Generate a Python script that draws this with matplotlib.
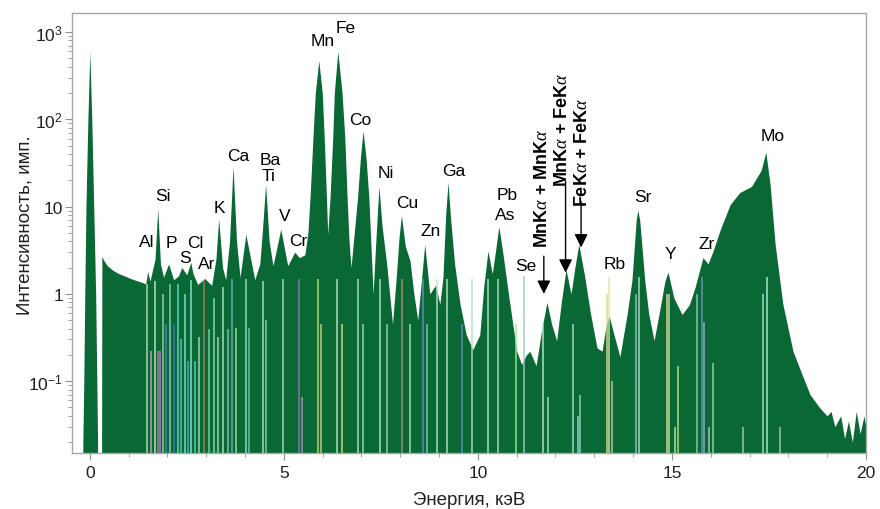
import matplotlib
matplotlib.use("Agg")
import matplotlib.pyplot as plt
from matplotlib.ticker import FixedLocator, MultipleLocator, LogLocator, NullFormatter

plt.rcParams['font.family'] = ['Liberation Sans', 'DejaVu Sans']
plt.rcParams['mathtext.fontset'] = 'custom'
plt.rcParams['mathtext.rm'] = 'Liberation Sans'
plt.rcParams['mathtext.it'] = 'Liberation Serif:italic'
plt.rcParams['mathtext.bf'] = 'Liberation Sans:bold'

GREEN = "#0a6834"
GAP = 1e-3   # below the axis floor -> white gap

# spectrum outline (energy keV, intensity)
energy = [
    -0.19, -0.18, -0.155, -0.13, -0.10, -0.05, 0.0, 0.05, 0.10, 0.15, 0.18, 0.20,
    0.21, 0.30, 0.31, 0.36, 0.45, 0.6, 0.75, 0.9, 1.05, 1.2, 1.35, 1.44,
    1.49, 1.55, 1.68, 1.75, 1.82, 1.9, 2.03, 2.16, 2.28, 2.37, 2.5, 2.6, 2.66,
    2.78, 2.96, 3.14, 3.25, 3.32, 3.42, 3.5, 3.6, 3.69, 3.78, 3.87, 4.02, 4.25,
    4.38, 4.45, 4.53, 4.62, 4.72, 4.92, 5.1, 5.28, 5.4, 5.54,
    5.62, 5.68, 5.75, 5.81, 5.9, 5.99, 6.04, 6.1, 6.13,
    6.19, 6.26, 6.3, 6.39, 6.5, 6.57, 6.63, 6.68, 6.73,
    6.9, 6.97, 7.04, 7.12, 7.19, 7.3,
    7.37, 7.45, 7.53, 7.65, 7.8,
    7.89, 7.97, 8.03, 8.13, 8.25, 8.35, 8.45,
    8.55, 8.63, 8.76, 8.91, 9.02,
    9.1, 9.17, 9.23, 9.3, 9.4, 9.54, 9.7, 9.87,
    10.05, 10.15, 10.26, 10.37, 10.45, 10.54, 10.64, 10.8, 11.0, 11.13, 11.25,
    11.34, 11.5, 11.65, 11.78, 11.9, 12.03, 12.15, 12.27, 12.4, 12.5, 12.6,
    12.75, 12.9, 13.07, 13.2, 13.3, 13.38, 13.5, 13.66,
    13.85, 13.97, 14.03, 14.08, 14.12, 14.17, 14.23, 14.3, 14.4, 14.54,
    14.7, 14.82, 14.9, 15.05, 15.26, 15.45, 15.6, 15.8, 15.93,
    16.05, 16.25, 16.5, 16.75, 17.05, 17.3, 17.42, 17.53, 17.66, 17.86,
    18.12, 18.35, 18.56, 18.8, 19.0, 19.1, 19.2, 19.35, 19.45, 19.55,
    19.65, 19.75, 19.85, 19.95, 20.0,
]
intensity = [
    GAP, 0.02, 0.1, 1.0, 10, 100, 600, 100, 10, 1.0, 0.1, 0.02,
    GAP, GAP, 2.7, 2.4, 2.1, 1.85, 1.7, 1.6, 1.5, 1.42, 1.35, 1.3,
    1.8, 1.4, 2.5, 9.5, 2.2, 1.55, 2.2, 1.45, 1.6, 2.0, 1.65, 2.3, 1.7,
    1.28, 1.5, 1.25, 2.5, 7.2, 2.0, 1.45, 4.0, 29, 4.0, 1.55, 4.8, 1.45,
    2.2, 5.5, 18, 4.0, 2.1, 5.5, 2.1, 3.0, 2.6, 2.8,
    5, 14, 62, 200, 470, 200, 62, 12, 4.8,
    12.7, 62, 200, 600, 200, 62, 12.7, 4.0, 2.0,
    12.7, 35, 74, 35, 12.7, 1.0,
    4, 17, 6, 2.2, 0.45,
    1.43, 4.5, 7.9, 3.5, 2.4, 1.0, 0.5,
    1.5, 3.7, 1.0, 1.25, 0.76,
    1.55, 8, 19, 7, 2.2, 0.76, 0.34, 0.23,
    0.34, 1.2, 3.1, 1.7, 3.0, 5.9, 3.0, 0.91, 0.22, 0.155, 0.2,
    0.22, 0.15, 0.4, 0.8, 0.45, 0.29, 0.8, 1.9, 1.0, 2.0, 3.7,
    1.6, 0.6, 0.24, 0.22, 0.42, 0.56, 0.35, 0.19,
    0.6, 1.43, 3.4, 7, 9.1, 7, 3.4, 1.43, 0.6, 0.29,
    0.7, 1.4, 1.77, 0.9, 0.58, 0.75, 1.2, 2.6, 2.2,
    3.0, 5.5, 10.5, 14.5, 17, 26, 42, 18, 3.7, 0.76,
    0.22, 0.12, 0.07, 0.05, 0.04, 0.045, 0.03, 0.04, 0.022, 0.035,
    0.02, 0.045, 0.025, 0.04, 0.03,
]

# element line markers: energy, top intensity, colour
line_energy = [
    1.47, 1.57, 1.68, 1.75, 1.80, 1.88, 1.96, 2.06, 2.16, 2.27, 2.35, 2.45,
    2.53, 2.60, 2.70, 2.81, 2.94, 3.07, 3.20, 3.30, 3.43, 3.56,
    3.66, 3.76, 4.02, 4.10, 4.46, 4.54, 4.97, 5.39, 5.46, 5.88, 5.95, 6.37,
    6.50, 6.90, 7.04, 7.47, 7.65, 8.04, 8.25, 8.58, 8.69, 8.94, 9.20, 9.59,
    9.85, 10.26, 10.52, 10.98, 11.20, 11.68, 11.80, 12.45, 12.57, 12.63,
    13.32, 13.38, 13.45, 14.07, 14.15, 14.87, 14.92, 15.08, 15.15, 15.64,
    15.77, 15.82, 15.95, 16.06, 16.83, 17.35, 17.45, 17.78,
]
line_top = [
    1.28, 0.22, 1.4, 0.22, 0.22, 1.0, 0.45, 1.28, 0.45, 1.28, 0.3, 1.0,
    0.17, 1.45, 0.17, 0.32, 1.45, 0.4, 0.9, 0.32, 1.2, 0.4,
    1.47, 0.41, 1.47, 0.41, 1.4, 0.5, 1.47, 1.47, 0.065, 1.47, 0.45, 1.47,
    0.45, 1.47, 0.45, 1.47, 0.45, 1.47, 0.45, 1.47, 0.45, 1.47, 1.47, 0.45,
    1.47, 1.47, 1.47, 0.45, 1.6, 0.45, 0.065, 0.45, 0.04, 0.07,
    1.0, 1.55, 0.1, 1.0, 1.55, 1.0, 1.0, 0.03, 0.15, 1.0,
    1.55, 0.47, 0.03, 0.16, 0.03, 1.0, 1.55, 0.03,
]
line_color = [
    "#b8e0b0", "#d0a0c0", "#c8e8c0", "#c070b0", "#b080c0", "#a0d0b0",
    "#5080c0", "#90d0c0", "#3f74b0", "#70d8d0", "#60c8c8", "#80e0d0",
    "#50b0c0", "#90e8d8", "#60d0c0", "#a0e0c0", "#a08060", "#80d0b0",
    "#90e0b0", "#a0e0c0", "#b0e8c0", "#80c8b0",
    "#70a8c0", "#a0e0a0", "#a0e0c0", "#70c0c0", "#b0e8c0", "#90d0b0",
    "#a0e0c0", "#8878c0", "#b090c0", "#c0e070", "#d0d080", "#c0e8c0",
    "#e0e070", "#b0e8c0", "#a0d8b0", "#b0e8c0", "#a0d0b0", "#b09070",
    "#b0e0c0", "#6090c0", "#90c0c0", "#b0e8c0", "#c0e8c0", "#6090c0",
    "#b0e0c0", "#b0e8c0", "#b0e0c0", "#90f090", "#a0c8d0", "#c0e8d0",
    "#b0e0c0", "#b0e0d0", "#90d8c8", "#90d8c8",
    "#d0e090", "#e0e0a0", "#c0d090", "#90c8c0", "#b0e0d0", "#e0e090",
    "#d0e0a0", "#c0f090", "#c0e080", "#90c8c0",
    "#7090c0", "#90b0c0", "#a0d0c0", "#a0d0b0", "#a0d0b0", "#a0e8d0",
    "#b0f0d0", "#a0d0b0",
]

# element labels
label_text = ["Al", "Si", "P", "S", "Cl", "Ar", "K", "Ca", "Ba", "Ti", "V",
              "Cr", "Mn", "Fe", "Co", "Ni", "Cu", "Zn", "Ga", "Pb", "As",
              "Se", "Rb", "Sr", "Y", "Zr", "Mo"]
label_x = [1.47, 1.88, 2.11, 2.45, 2.73, 3.0, 3.35, 3.82, 4.66, 4.6, 5.03,
           5.36, 6.0, 6.6, 6.98, 7.63, 8.17, 8.79, 9.38, 10.75, 10.7,
           11.24, 13.53, 14.25, 14.95, 15.9, 17.6]
label_y = [4.0, 13.4, 3.9, 2.6, 3.9, 2.2, 9.8, 38.6, 34.8, 22.8, 7.9,
           4.1, 800, 1130, 100, 24.7, 11.2, 5.3, 26, 13.8, 8.2,
           2.1, 2.2, 13.1, 2.9, 3.8, 65]

# sum-peak annotations: text, text centre, arrow x, arrow start y, arrow tip y
sum_text = [r"MnK$\alpha$ + MnK$\alpha$", r"MnK$\alpha$ + FeK$\alpha$",
            r"FeK$\alpha$ + FeK$\alpha$"]
sum_text_x = [11.66, 12.17, 12.69]
sum_text_y = [16.6, 78.5, 42.9]
sum_arrow_x = [11.70, 12.26, 12.66]
sum_arrow_from = [2.7, 19.5, 11.5]
sum_arrow_to = [1.0, 1.75, 3.4]

fig = plt.figure(figsize=(8.8, 5.1), dpi=100)
ax = fig.add_axes([0.0818, 0.1098, 0.9022, 0.8627])

ax.fill_between(energy, GAP, intensity, color=GREEN, lw=0, zorder=2)
ax.vlines(line_energy, GAP, line_top, colors=line_color, lw=1.2,
          alpha=0.85, zorder=3)

for t, x, y in zip(label_text, label_x, label_y):
    ax.text(x, y, t, fontsize=12.5, ha="center", va="center", zorder=1)

for t, tx, ty, xa, y0, y1 in zip(sum_text, sum_text_x, sum_text_y,
                                 sum_arrow_x, sum_arrow_from, sum_arrow_to):
    ax.text(tx, ty, t, fontsize=13, fontweight="bold", rotation=90,
            ha="center", va="center", zorder=5)
    ax.annotate("", xy=(xa, y1), xytext=(xa, y0),
                arrowprops=dict(arrowstyle="-|>", color="black", lw=1.0,
                                mutation_scale=20, shrinkA=0, shrinkB=0),
                zorder=5)

ax.set_yscale("log")
ax.set_xlim(-0.46, 20)
ax.set_ylim(0.015, 1650)

ax.yaxis.set_major_locator(FixedLocator([0.1, 1, 10, 100, 1000]))
ax.set_yticklabels([r"$\mathregular{10^{-1}}$", "1", "10",
                    r"$\mathregular{10^{2}}$", r"$\mathregular{10^{3}}$"])
ax.yaxis.set_minor_locator(LogLocator(base=10, subs=range(2, 10)))
ax.yaxis.set_minor_formatter(NullFormatter())
ax.xaxis.set_major_locator(MultipleLocator(5))
ax.xaxis.set_minor_locator(MultipleLocator(1))

for s in ax.spines.values():
    s.set_color("#a8a8a8")
    s.set_linewidth(1.0)
ax.tick_params(which="both", direction="out", color="#909090",
               labelsize=12.5, labelcolor="#202020")
ax.tick_params(axis="y", pad=1.5)
ax.tick_params(which="major", length=5)
ax.tick_params(which="minor", length=3)

ax.set_xlabel("Энергия, кэВ", fontsize=13.5, color="#202020", labelpad=8)
ax.set_ylabel("Интенсивность, имп.", fontsize=13.5, color="#202020")
ax.yaxis.set_label_coords(-0.049, 0.52)

fig.savefig("out.png", dpi=100)
